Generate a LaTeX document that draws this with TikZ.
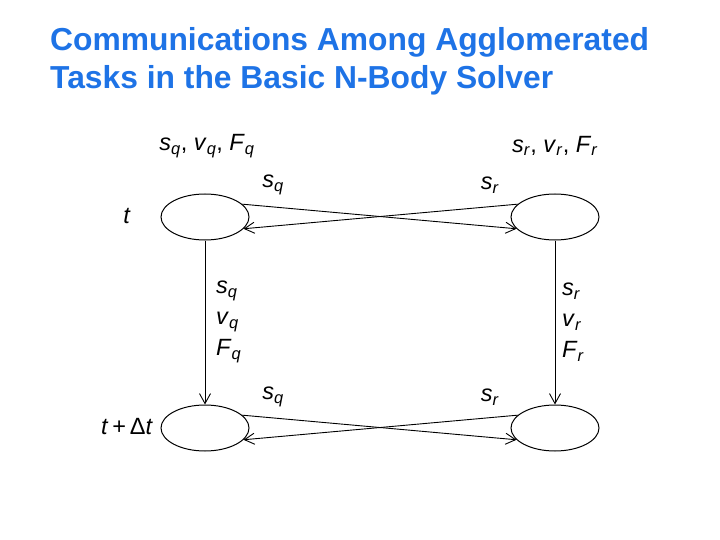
\documentclass[tikz,border=0pt]{standalone}
\usepackage{fontspec}
\setmainfont{Liberation Sans}
\usetikzlibrary{shapes.geometric,arrows.meta}
\definecolor{titleblue}{RGB}{30,115,230}
\newcommand{\vsub}[2]{\textit{#1}\textsubscript{\textit{#2}}}

\begin{document}
\begin{tikzpicture}[x=1pt, y=-1pt, >={Straight Barb[length=10pt,width=11pt]},
    task/.style={draw, ellipse, line width=1pt, minimum width=88pt, minimum height=46pt, inner sep=0pt},
    msg/.style={->, line width=0.9pt},
    lab/.style={font=\fontsize{23.5}{31}\selectfont, inner sep=0pt}]
  \useasboundingbox (0,0) rectangle (720,540);

% ---------------- title
  \node[anchor=west, text=titleblue, align=left, inner sep=0pt,
        font=\fontsize{31.8}{38}\selectfont\bfseries] (title) at (50,61)
    {Communications Among Agglomerated\\Tasks in the Basic N-Body Solver};

% ---------------- the four agglomerated tasks, two per time step
  \node[task] (tq) at (205,217) {};
  \node[task] (tr) at (555,217) {};
  \node[task] (bq) at (205,428) {};
  \node[task] (br) at (555,428) {};

% ---------------- time labels and the data held by each task
  \node[lab] (tlab) at (127,216) {\textit{t}};
  \node[lab] (dtlab) at (127,427) {\textit{t}\,+\,Δ\textit{t}};
  \node[lab] (qdata) at (207,146) {\vsub{s}{q}, \vsub{v}{q}, \vsub{F}{q}};
  \node[lab] (rdata) at (555,146) {\vsub{s}{r}, \vsub{v}{r}, \vsub{F}{r}};

% ---------------- exchange of positions at t
  \draw[msg] (tq.19) -- (tr.-163);
  \draw[msg] (tr.161) -- (tq.-17);
  \node[lab] (sq1) at (273,185) {\vsub{s}{q}};
  \node[lab] (sr1) at (490,185) {\vsub{s}{r}};

% ---------------- exchange of positions at t + dt
  \draw[msg] (bq.19) -- (br.-163);
  \draw[msg] (br.161) -- (bq.-17);
  \node[lab] (sq2) at (273,397) {\vsub{s}{q}};
  \node[lab] (sr2) at (490,397) {\vsub{s}{r}};

% ---------------- each task passes its state on to the next step
  \draw[msg] (tq) -- (bq);
  \draw[msg] (tr) -- (br);
  \node[lab, align=left, anchor=west] (qstate) at (216,322)
    {\vsub{s}{q}\\\vsub{v}{q}\\\vsub{F}{q}};
  \node[lab, align=left, anchor=west] (rstate) at (562,322)
    {\vsub{s}{r}\\\vsub{v}{r}\\\vsub{F}{r}};
\end{tikzpicture}
\end{document}
